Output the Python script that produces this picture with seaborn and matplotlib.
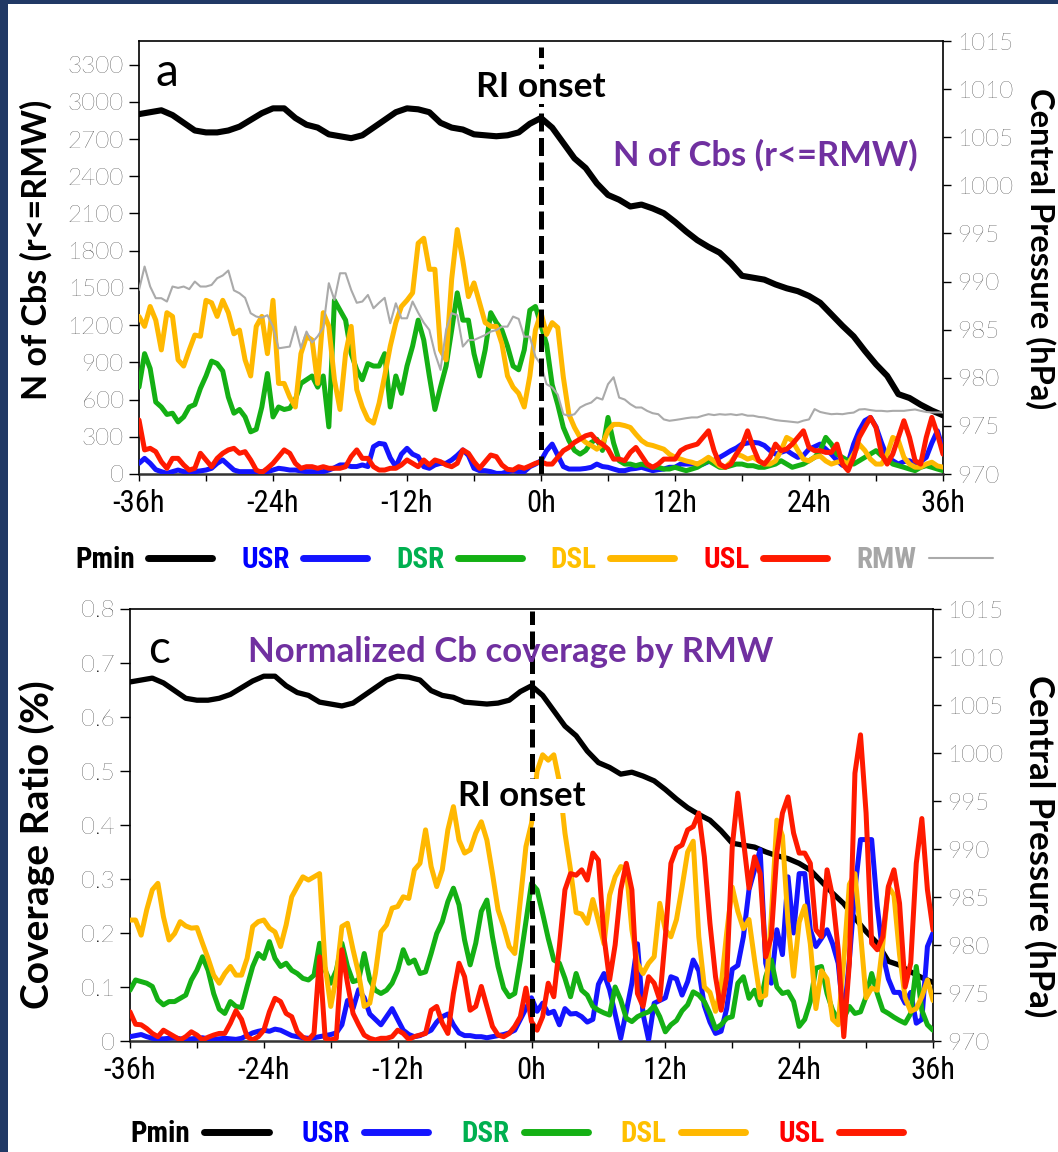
import numpy as np
import matplotlib
matplotlib.use("Agg")
import matplotlib.pyplot as plt
import matplotlib.transforms as mtransforms
from matplotlib.lines import Line2D
from matplotlib.patches import Rectangle
import seaborn as sns

sns.set_theme(style="white")
plt.rcParams['font.family'] = ['Lato', 'DejaVu Sans']
for key in ['text.color', 'axes.labelcolor', 'xtick.color', 'ytick.color', 'axes.edgecolor']:
    plt.rcParams[key] = 'black'

NARROW = ['Liberation Sans Narrow', 'Roboto Condensed', 'Roboto', 'DejaVu Sans']
TICKFONT = ['Lato', 'DejaVu Sans']

# ---------------------------------------------------------------- time axes
hours_half = np.arange(-36.0, 36.01, 0.5)   # Cb series, every 30 min
hours = np.arange(-36, 37)                   # central pressure, hourly

# ---------------------------------------------------------------- panel (a): number of Cbs inside RMW
dsl_count = [
    1270, 1190, 1350, 1240, 1000, 1300, 1270, 920, 870, 1000,
    1120, 1110, 1400, 1380, 1270, 1400, 1300, 1130, 1160, 920,
    790, 1190, 1270, 970, 1400, 730, 730, 620, 540, 970,
    1110, 1080, 730, 1300, 1190, 760, 520, 970, 1190, 680,
    540, 440, 410, 570, 790, 1030, 1220, 1350, 1400, 1460,
    1860, 1900, 1650, 1650, 1000, 920, 1570, 1970, 1720, 1430,
    1540, 1380, 1220, 1190, 1190, 1050, 790, 700, 650, 540,
    790, 1160, 1300,
    1125, 1220, 1180, 780, 480, 375, 295, 255, 230, 200,
    240, 350, 400, 400, 390, 375, 320, 270, 240, 230,
    215, 200, 160, 135, 120, 105, 95, 80, 105, 135,
    105, 65, 55, 95, 160, 145, 120, 135, 105, 80,
    80, 105, 190, 295, 270, 190, 120, 105, 135, 145,
    105, 80, 95, 105, 80, 160, 240, 190, 120, 80,
    80, 160, 295, 270, 135, 80, 55, 55, 80, 95,
    65, 55,
]
dsr_count = [
    700, 970, 850, 580, 540, 480, 490, 420, 460, 540,
    560, 690, 790, 910, 890, 830, 620, 490, 520, 460,
    340, 360, 540, 810, 460, 540, 520, 530, 600, 730,
    760, 790, 700, 790, 380, 1400, 1320, 1240, 970, 840,
    760, 890, 870, 870, 970, 540, 790, 650, 870, 1030,
    1240, 1080, 790, 520, 700, 870, 1160, 1460, 1240, 1240,
    970, 790, 1000, 1300, 1220, 1160, 1030, 870, 840, 1000,
    1320, 1350, 1200,
    1045, 720, 560, 375, 270, 190, 160, 190, 255, 280,
    190, 456, 250, 107, 80, 80, 67, 80, 67, 54,
    54, 40, 40, 54, 40, 27, 40, 54, 80, 107,
    80, 54, 54, 67, 80, 80, 67, 67, 54, 54,
    67, 80, 107, 80, 54, 67, 80, 107, 134, 188,
    295, 241, 160, 134, 107, 80, 107, 134, 160, 188,
    147, 120, 80, 67, 54, 40, 27, 54, 67, 54,
    40, 27,
]
usl_count = [
    435, 194, 207, 180, 99, 46, 126, 126, 73, 32,
    46, 167, 113, 59, 126, 167, 194, 207, 167, 180,
    113, 32, 11, 46, 86, 140, 194, 167, 86, 46,
    59, 59, 46, 59, 46, 46, 46, 59, 140, 194,
    126, 126, 59, 32, 32, 46, 46, 73, 113, 86,
    59, 113, 73, 113, 99, 73, 59, 86, 194, 167,
    99, 46, 99, 153, 140, 73, 38, 32, 59, 46,
    65, 86, 99,
    80, 80, 134, 188, 214, 255, 281, 308, 321, 268,
    241, 201, 120, 120, 107, 174, 214, 147, 80, 54,
    80, 120, 120, 120, 188, 214, 228, 241, 295, 348,
    188, 80, 54, 80, 160, 228, 348, 214, 107, 80,
    134, 241, 188, 201, 241, 295, 348, 214, 188, 188,
    174, 174, 241, 80, 27, 134, 295, 375, 456, 375,
    160, 80, 160, 295, 429, 295, 107, 80, 295, 456,
    321, 160,
]
usr_count = [
    86, 126, 86, 35, 19, 5, 19, 32, 19, 10,
    19, 25, 32, 46, 86, 113, 73, 32, 19, 19,
    19, 19, 19, 19, 32, 46, 40, 32, 32, 25,
    19, 19, 19, 19, 32, 50, 73, 73, 60, 60,
    73, 60, 220, 247, 240, 130, 59, 160, 207, 160,
    140, 59, 46, 73, 86, 86, 113, 150, 194, 150,
    46, 27, 27, 19, 5, 5, 19, 27, 19, 19,
    59, 80, 107,
    188, 241, 150, 60, 40, 40, 40, 45, 54, 80,
    60, 54, 40, 27, 27, 40, 45, 54, 40, 27,
    35, 40, 54, 54, 80, 80, 80, 80, 80, 100,
    110, 134, 160, 188, 210, 241, 250, 255, 250, 230,
    190, 160, 175, 190, 160, 134, 150, 200, 220, 241,
    200, 160, 110, 70, 90, 241, 350, 430, 456, 380,
    250, 134, 107, 80, 100, 107, 80, 100, 134, 250,
    348, 200,
]
rmw_count = [
    1484, 1672, 1511, 1417, 1417, 1390, 1511, 1500, 1511, 1490,
    1551, 1511, 1511, 1524, 1578, 1600, 1640, 1480, 1457, 1420,
    1296, 1269, 1260, 1280, 1188, 1013, 1020, 1027, 1188, 1013,
    1148, 1060, 1110, 1180, 1538, 1403, 1618, 1618, 1484, 1380,
    1390, 1443, 1336, 1380, 1420, 1215, 1376, 1255, 1255, 1390,
    1300, 1220, 1161, 973, 839, 1161, 1296, 1280, 1027, 1080,
    1080, 1100, 1120, 1148, 1160, 1188, 1188, 1269, 1250, 1107,
    1107, 946, 880,
    724, 697, 640, 482, 469, 482, 536, 560, 576, 616,
    600, 724, 780, 616, 600, 563, 536, 536, 509, 490,
    482, 440, 429, 435, 442, 450, 456, 456, 470, 482,
    475, 482, 478, 482, 475, 482, 470, 470, 460, 456,
    445, 435, 429, 425, 420, 415, 430, 440, 523, 500,
    490, 482, 485, 482, 490, 495, 520, 523, 515, 509,
    509, 505, 509, 509, 509, 515, 520, 509, 500, 496,
    496, 496,
]

# ---------------------------------------------------------------- panel (c): Cb coverage normalized by RMW
dsl_cover = [
    0.224, 0.224, 0.196, 0.243, 0.280, 0.292, 0.230, 0.187, 0.199, 0.221,
    0.213, 0.209, 0.210, 0.181, 0.153, 0.122, 0.107, 0.125, 0.138, 0.122,
    0.122, 0.153, 0.212, 0.221, 0.224, 0.209, 0.202, 0.175, 0.215, 0.267,
    0.286, 0.304, 0.298, 0.304, 0.310, 0.138, 0.064, 0.119, 0.212, 0.218,
    0.169, 0.125, 0.064, 0.070, 0.125, 0.202, 0.215, 0.246, 0.249, 0.267,
    0.264, 0.317, 0.329, 0.391, 0.323, 0.286, 0.317, 0.391, 0.434, 0.372,
    0.348, 0.354, 0.385, 0.406, 0.372, 0.310, 0.243, 0.212, 0.175, 0.162,
    0.261, 0.360, 0.403,
    0.500, 0.530, 0.520, 0.530, 0.480, 0.385, 0.317, 0.238, 0.235, 0.218,
    0.262, 0.222, 0.180, 0.270, 0.304, 0.323, 0.320, 0.206, 0.144, 0.125,
    0.144, 0.156, 0.255, 0.206, 0.193, 0.225, 0.285, 0.350, 0.370, 0.193,
    0.100, 0.090, 0.055, 0.100, 0.200, 0.285, 0.240, 0.208, 0.225, 0.150,
    0.080, 0.085, 0.230, 0.409, 0.380, 0.220, 0.120, 0.220, 0.250, 0.180,
    0.060, 0.130, 0.115, 0.040, 0.030, 0.150, 0.290, 0.310, 0.200, 0.080,
    0.098, 0.094, 0.180, 0.286, 0.270, 0.160, 0.080, 0.055, 0.060, 0.082,
    0.113, 0.075,
]
dsr_cover = [
    0.094, 0.113, 0.110, 0.107, 0.101, 0.076, 0.067, 0.073, 0.073, 0.079,
    0.085, 0.113, 0.131, 0.156, 0.131, 0.088, 0.059, 0.051, 0.073, 0.064,
    0.062, 0.101, 0.138, 0.162, 0.153, 0.184, 0.153, 0.138, 0.144, 0.131,
    0.125, 0.116, 0.113, 0.122, 0.181, 0.131, 0.107, 0.131, 0.181, 0.138,
    0.110, 0.113, 0.162, 0.113, 0.094, 0.088, 0.094, 0.107, 0.131, 0.169,
    0.144, 0.150, 0.125, 0.128, 0.162, 0.199, 0.221, 0.258, 0.283, 0.252,
    0.187, 0.141, 0.181, 0.240, 0.261, 0.193, 0.138, 0.098, 0.082, 0.088,
    0.150, 0.221, 0.292,
    0.280, 0.236, 0.190, 0.150, 0.144, 0.116, 0.082, 0.125, 0.094, 0.085,
    0.064, 0.057, 0.052, 0.048, 0.100, 0.076, 0.042, 0.036, 0.045, 0.050,
    0.054, 0.065, 0.045, 0.017, 0.030, 0.038, 0.056, 0.067, 0.091, 0.085,
    0.073, 0.051, 0.023, 0.030, 0.042, 0.045, 0.107, 0.119, 0.079, 0.094,
    0.067, 0.119, 0.150, 0.100, 0.088, 0.091, 0.073, 0.027, 0.040, 0.073,
    0.135, 0.138, 0.088, 0.057, 0.039, 0.042, 0.064, 0.051, 0.054, 0.082,
    0.125, 0.088, 0.057, 0.051, 0.044, 0.038, 0.033, 0.051, 0.138, 0.057,
    0.030, 0.020,
]
usl_cover = [
    0.054, 0.031, 0.030, 0.023, 0.014, 0.008, 0.020, 0.014, 0.008, 0.002,
    0.008, 0.017, 0.011, 0.002, 0.007, 0.011, 0.014, 0.014, 0.033, 0.056,
    0.040, 0.008, 0.002, 0.008, 0.020, 0.054, 0.079, 0.073, 0.051, 0.045,
    0.017, 0.007, 0.002, 0.014, 0.156, 0.005, 0.002, 0.005, 0.169, 0.107,
    0.051, 0.030, 0.011, 0.005, 0.002, 0.005, 0.005, 0.008, 0.020, 0.014,
    0.003, 0.008, 0.011, 0.014, 0.057, 0.064, 0.033, 0.014, 0.088, 0.144,
    0.119, 0.057, 0.064, 0.101, 0.064, 0.027, 0.011, 0.008, 0.014, 0.027,
    0.045, 0.098, 0.036,
    0.020, 0.045, 0.107, 0.082, 0.175, 0.280, 0.310, 0.307, 0.317, 0.298,
    0.348, 0.335, 0.193, 0.113, 0.178, 0.280, 0.329, 0.280, 0.088, 0.064,
    0.119, 0.107, 0.076, 0.193, 0.329, 0.357, 0.363, 0.391, 0.397, 0.422,
    0.341, 0.218, 0.119, 0.057, 0.119, 0.360, 0.459, 0.372, 0.283, 0.341,
    0.310, 0.156, 0.193, 0.348, 0.422, 0.452, 0.385, 0.348, 0.348, 0.329,
    0.206, 0.193, 0.317, 0.267, 0.169, 0.008, 0.144, 0.496, 0.567, 0.422,
    0.181, 0.169, 0.193, 0.286, 0.317, 0.255, 0.100, 0.144, 0.329, 0.412,
    0.280, 0.206,
]
usr_cover = [
    0.008, 0.010, 0.012, 0.008, 0.005, 0.004, 0.004, 0.005, 0.006, 0.004,
    0.003, 0.004, 0.005, 0.006, 0.004, 0.003, 0.004, 0.005, 0.004, 0.003,
    0.005, 0.010, 0.015, 0.018, 0.020, 0.018, 0.022, 0.020, 0.015, 0.010,
    0.008, 0.006, 0.005, 0.006, 0.008, 0.010, 0.012, 0.015, 0.030, 0.075,
    0.060, 0.095, 0.080, 0.050, 0.040, 0.030, 0.045, 0.060, 0.040, 0.020,
    0.012, 0.008, 0.010, 0.015, 0.020, 0.035, 0.045, 0.050, 0.030, 0.015,
    0.010, 0.010, 0.008, 0.008, 0.006, 0.008, 0.010, 0.012, 0.015, 0.020,
    0.040, 0.060, 0.080,
    0.055, 0.070, 0.051, 0.055, 0.030, 0.060, 0.050, 0.051, 0.045, 0.035,
    0.040, 0.105, 0.125, 0.095, 0.050, 0.005, 0.055, 0.107, 0.180, 0.050,
    0.002, 0.070, 0.075, 0.080, 0.119, 0.115, 0.085, 0.110, 0.150, 0.130,
    0.065, 0.035, 0.014, 0.018, 0.060, 0.133, 0.140, 0.193, 0.280, 0.317,
    0.354, 0.144, 0.107, 0.206, 0.160, 0.304, 0.200, 0.310, 0.310, 0.206,
    0.175, 0.190, 0.206, 0.180, 0.144, 0.040, 0.150, 0.280, 0.373, 0.373,
    0.373, 0.250, 0.160, 0.115, 0.090, 0.090, 0.070, 0.090, 0.033, 0.040,
    0.175, 0.200,
]

# ---------------------------------------------------------------- minimum central pressure (hPa), hourly
pmin = [
    1007.4, 1007.6, 1007.8, 1007.3, 1006.5, 1005.7, 1005.5, 1005.5, 1005.7, 1006.1,
    1006.8, 1007.5, 1008.0, 1008.0, 1007.0, 1006.3, 1006.0, 1005.3, 1005.1, 1004.9,
    1005.2, 1006.0, 1006.8, 1007.6, 1008.0, 1007.9, 1007.6, 1006.5, 1006.0, 1005.8,
    1005.3, 1005.2, 1005.1, 1005.2, 1005.5, 1006.4, 1007.0,
    1006.0, 1004.4, 1002.8, 1001.8, 1000.2, 999.0, 998.5, 997.8, 998.0, 997.6,
    997.1, 996.2, 995.2, 994.3, 993.6, 993.0, 991.9, 990.6, 990.4, 990.2,
    989.7, 989.3, 989.0, 988.5, 987.8, 986.6, 985.4, 984.3, 982.8, 981.4,
    980.2, 978.3, 977.9, 977.2, 976.6, 976.1,
]

hour_ticks = [-36, -24, -12, 0, 12, 24, 36]
hour_labels = ['-36h', '-24h', '-12h', '0h', '12h', '24h', '36h']
count_ticks = list(range(0, 3301, 300))
cover_ticks = [0.0, 0.1, 0.2, 0.3, 0.4, 0.5, 0.6, 0.7, 0.8]
cover_labels = ['0', '0.1', '0.2', '0.3', '0.4', '0.5', '0.6', '0.7', '0.8']
pres_ticks = list(range(970, 1016, 5))

COL = {'USR': '#1414FF', 'DSR': '#14B014', 'DSL': '#FFB800', 'USL': '#FF1A00',
       'RMW': '#AAAAAA', 'Pmin': 'black'}
TXT = {'Pmin': 'black', 'USR': '#0000FF', 'DSR': '#00B050', 'DSL': '#FFC000',
       'USL': '#FF0000', 'RMW': '#A6A6A6'}
PURPLE = '#7030A0'
TICK_KW = dict(fontfamily=TICKFONT, fontsize=17.5, fontweight='light')

W, H = 1058, 1152
fig = plt.figure(figsize=(W / 100, H / 100), dpi=100)
fig.patch.set_facecolor('#213965')
fig.add_artist(Rectangle((8 / W, 0), 1.0, 1 - 4 / H, transform=fig.transFigure,
                         facecolor='white', edgecolor='none', zorder=-10))


def line(ax, x, y, color, lw, z):
    sns.lineplot(x=x, y=y, ax=ax, color=color, linewidth=lw, zorder=z,
                 legend=False, estimator=None, sort=False,
                 solid_joinstyle='round', solid_capstyle='round')


def make_panel(px):
    left, top, right, bottom = px
    rect = [left / W, 1 - bottom / H, (right - left) / W, (bottom - top) / H]
    ax_p = fig.add_axes(rect)
    ax_c = ax_p.twinx()
    ax_p.set_xlim(-36, 36)
    ax_p.set_ylim(970, 1015)
    # pressure scale on the right, Cb scale on the left
    ax_p.yaxis.tick_right()
    ax_p.yaxis.set_label_position('right')
    ax_c.yaxis.tick_left()
    ax_c.yaxis.set_label_position('left')
    for s in ax_p.spines.values():
        s.set_color('black')
        s.set_linewidth(1.2)
    ax_p.spines['bottom'].set_linewidth(1.8)
    ax_p.spines['bottom'].set_color('#333333')
    for s in ax_c.spines.values():
        s.set_visible(False)
    ax_p.set_xticks(hour_ticks, hour_labels, fontfamily=NARROW, fontsize=22,
                    fontstretch='condensed')
    ax_p.set_xticks(list(range(-36, 37, 6)), minor=True)
    ax_p.tick_params(axis='x', which='both', direction='out', length=5, width=1,
                     bottom=True, pad=6, colors='black')
    ax_p.set_yticks(pres_ticks, [str(v) for v in pres_ticks], **TICK_KW)
    ax_p.tick_params(axis='y', direction='out', length=6, width=1, right=True,
                     left=False, pad=4, colors='black')
    ax_c.tick_params(axis='y', direction='out', length=7, width=1, left=True,
                     right=False, pad=4, colors='black')
    return ax_p, ax_c


# ================================================================ panel (a)
axa_p, axa = make_panel((139, 41, 943, 474))
axa.set_ylim(0, 3490)
axa.set_yticks(count_ticks, [str(v) for v in count_ticks], **TICK_KW)

line(axa_p, hours, pmin, COL['Pmin'], 4.4, 2)
line(axa, hours_half, usr_count, COL['USR'], 3.6, 3)
line(axa, hours_half, dsr_count, COL['DSR'], 3.6, 3)
line(axa, hours_half, dsl_count, COL['DSL'], 3.6, 3)
line(axa, hours_half, usl_count, COL['USL'], 3.6, 3)
line(axa, hours_half, rmw_count, COL['RMW'], 1.5, 4)
axa.axvline(0, ymin=0, ymax=0.985, color='black', lw=3.6,
            linestyle=(0, (3.6, 1.3)), zorder=6)

bt_a = mtransforms.blended_transform_factory(axa.transData, axa.transAxes)
axa.text(0.020, 0.926, 'a', transform=axa.transAxes, fontsize=33,
         ha='left', va='center', zorder=7)
axa.text(0, 0.894, 'RI onset', transform=bt_a, fontsize=25.5, fontweight='bold',
         ha='center', va='center', zorder=8,
         bbox=dict(facecolor='white', edgecolor='none', pad=1))
axa.text(20.1, 0.737, 'N of Cbs (r<=RMW)', transform=bt_a, fontsize=24.8,
         fontweight='bold', color=PURPLE, ha='center', va='center', zorder=7)
axa.set_ylabel('N of Cbs (r<=RMW)', fontsize=24.5, fontweight='bold')
axa.yaxis.set_label_coords(-0.107, 0.517)
axa_p.set_ylabel('Central Pressure (hPa)', fontsize=23.5, fontweight='bold',
                 rotation=270, va='center')
axa_p.yaxis.set_label_coords(1.121, 0.52)

# ================================================================ panel (c)
axc_p, axc = make_panel((130, 609, 933, 1041))
axc.set_ylim(0, 0.8)
axc.set_yticks(cover_ticks, cover_labels, **TICK_KW)

line(axc_p, hours, pmin, COL['Pmin'], 3.8, 2)
line(axc, hours_half, usr_cover, COL['USR'], 3.6, 3)
line(axc, hours_half, dsr_cover, COL['DSR'], 3.6, 3)
line(axc, hours_half, dsl_cover, COL['DSL'], 3.6, 3)
line(axc, hours_half, usl_cover, COL['USL'], 3.6, 3)
axc.axvline(0, ymin=0, ymax=0.995, color='black', lw=3.6,
            linestyle=(0, (3.6, 1.3)), zorder=6)

bt_c = mtransforms.blended_transform_factory(axc.transData, axc.transAxes)
axc.text(0.022, 0.905, 'c', transform=axc.transAxes, fontsize=33,
         ha='left', va='center', zorder=7)
axc.text(-1.9, 0.900, 'Normalized Cb coverage by RMW', transform=bt_c, fontsize=25,
         fontweight='bold', color=PURPLE, ha='center', va='center', zorder=7)
axc.text(-0.85, 0.567, 'RI onset', transform=bt_c, fontsize=25, fontweight='bold',
         ha='center', va='center', zorder=8,
         bbox=dict(facecolor='white', edgecolor='none', pad=1))
axc.set_ylabel('Coverage Ratio (%)', fontsize=28, fontweight='bold')
axc.yaxis.set_label_coords(-0.094, 0.455)
axc_p.set_ylabel('Central Pressure (hPa)', fontsize=25, fontweight='bold',
                 rotation=270, va='center')
axc_p.yaxis.set_label_coords(1.133, 0.452)


# ================================================================ legends
def add_legend(names, anchor, widths, textpad, spacing):
    handles = [Line2D([], [], color=COL[n], lw=w, solid_capstyle='round')
               for n, w in zip(names, widths)]
    leg = fig.legend(handles, names, loc='center left', bbox_to_anchor=anchor,
                     ncol=len(names), markerfirst=False, frameon=False,
                     handlelength=2.2, handletextpad=textpad, columnspacing=spacing,
                     borderpad=0, borderaxespad=0,
                     prop={'family': NARROW, 'weight': 'bold', 'size': 21,
                           'stretch': 'condensed'})
    for t, n in zip(leg.get_texts(), names):
        t.set_color(TXT[n])
    return leg


add_legend(['Pmin', 'USR', 'DSR', 'DSL', 'USL', 'RMW'], (75 / W, 1 - 560 / H),
           [5, 5, 5, 5, 5, 1.5], 0.45, 1.0)
add_legend(['Pmin', 'USR', 'DSR', 'DSL', 'USL'], (130 / W, 1 - 1134 / H),
           [5, 5, 5, 5, 5], 0.5, 1.12)

fig.savefig('out.png', dpi=100, facecolor=fig.get_facecolor())
